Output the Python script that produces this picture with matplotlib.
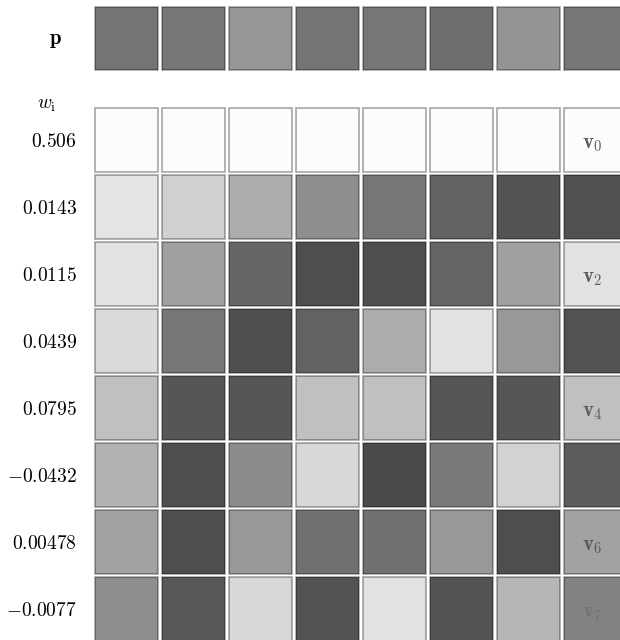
import numpy as np
import matplotlib
matplotlib.use("Agg")
import matplotlib.pyplot as plt
from matplotlib.patches import Rectangle

plt.rcParams['mathtext.fontset'] = 'cm'
plt.rcParams['font.family'] = ['DejaVu Serif']

# grey level of each square (0 = black, 255 = white)
p_grey = [116, 118, 150, 116, 118, 110, 148, 118]
basis_grey = [
    [252, 252, 252, 252, 252, 252, 252, 252],   # v0
    [228, 208, 172, 142, 118, 98, 84, 80],      # v1
    [226, 160, 102, 78, 78, 100, 160, 226],     # v2
    [218, 118, 78, 98, 172, 226, 152, 82],      # v3
    [192, 86, 86, 192, 192, 86, 86, 192],       # v4
    [178, 78, 140, 216, 74, 122, 210, 92],      # v5
    [162, 78, 152, 112, 112, 152, 78, 162],     # v6
    [142, 88, 216, 82, 226, 84, 182, 130],      # v7
]
weights = ['0.506', '0.0143', '0.0115', '0.0439', '0.0795',
           '-0.0432', '0.00478', '-0.0077']
vec_labels = [r'$\mathbf{v}_0$', '', r'$\mathbf{v}_2$', '', r'$\mathbf{v}_4$',
              '', r'$\mathbf{v}_6$', r'$\mathbf{v}_7$']

fig = plt.figure(figsize=(6.2, 6.4), dpi=100)
ax = fig.add_axes([0, 0, 1, 1])
ax.set_xlim(0, 620)
ax.set_ylim(640, 0)
ax.axis('off')

x0, pitch, side = 94.5, 67.0, 63.5   # layout in pixels
row0 = 108.3


def cell(x, y, g):
    c = g / 255.0
    ax.add_patch(Rectangle((x, y), side, side, facecolor=(c, c, c),
                           edgecolor=(0, 0, 0, 0.35), linewidth=1.2))


# the p row
for j, g in enumerate(p_grey):
    cell(x0 + j * pitch, 6.7, g)
ax.text(55, 40, r'$\mathbf{p}$', fontsize=15, ha='center', va='center')

# basis rows with weights
ax.text(47, 105, r'$w_\mathrm{i}$', fontsize=14, ha='center', va='center')
for i, row in enumerate(basis_grey):
    y = row0 + i * pitch
    for j, g in enumerate(row):
        cell(x0 + j * pitch, y, g)
    ax.text(77, y + side / 2 + 2, '$' + weights[i] + '$', fontsize=14,
            ha='right', va='center')
    if vec_labels[i]:
        col = '#727272' if i == 7 else '#5a5a5a'
        ax.text(x0 + 7 * pitch + 29, y + side / 2 + 4, vec_labels[i],
                fontsize=15, ha='center', va='center', color=col)

fig.savefig('out.png', dpi=100)
